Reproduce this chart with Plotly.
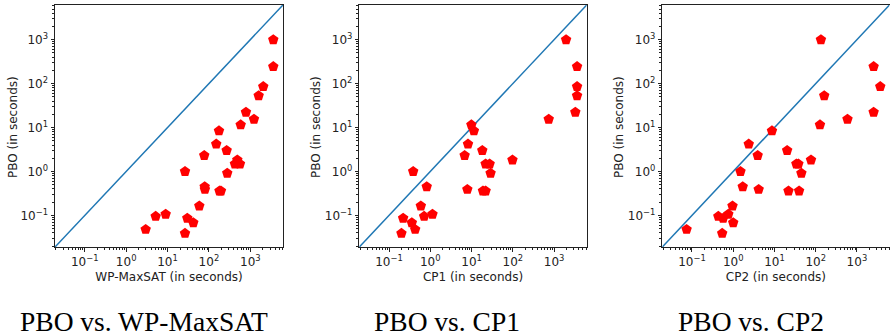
import plotly.graph_objects as go

# PBO runtime (seconds), one per instance
pbo = [1000, 244, 85.5, 53, 22.3, 15.4, 11.5, 8.4, 4.2, 3.0, 2.3, 1.83, 1.48, 1.48,
       1.0, 0.91, 0.45, 0.39, 0.36, 0.36, 0.164, 0.095, 0.106, 0.086, 0.068, 0.048, 0.039]
wp_maxsat = [3590, 3590, 2056, 1592, 785, 1225, 585, 175, 150, 268, 77, 485, 425, 562,
             26.4, 277, 79, 80, 180, 195, 58.5, 5.16, 9.0, 30, 41.9, 2.96, 26.4]
cp1 = [1950, 3600, 3600, 3600, 3270, 741, 9.9, 11.4, 8.2, 18.2, 6.8, 98, 21.9, 27.4,
       0.385, 28.9, 0.82, 7.9, 18.9, 21.9, 0.59, 0.71, 1.13, 0.22, 0.357, 0.43, 0.20]
cp2 = [134, 2540, 3680, 161, 2540, 590, 127, 8.7, 2.38, 20.3, 3.92, 77, 34, 38,
       1.5, 45, 1.7, 4.14, 21.9, 39.6, 0.96, 0.435, 0.76, 0.57, 1.0, 0.074, 0.54]

x_labels = ["WP-MaxSAT (in seconds)", "CP1 (in seconds)", "CP2 (in seconds)"]
titles = ["PBO vs. WP-MaxSAT", "PBO vs. CP1", "PBO vs. CP2"]
y_label = "PBO (in seconds)"
tick_vals = [0.1, 1, 10, 100, 1000]
tick_text = ["10<sup>\u22121</sup>", "10<sup>0</sup>", "10<sup>1</sup>", "10<sup>2</sup>", "10<sup>3</sup>"]
log_range = [-1.72, 3.79]
diag = [10 ** log_range[0], 10 ** log_range[1]]

series = [wp_maxsat, cp1, cp2]

W, H = 890, 336
x_domains = [(55, 283), (359.3, 586.7), (662.3, 889.5)]
title_centers = [144, 447.5, 751]
y_title_x = [13, 316, 619]
y_dom = [1 - 247 / H, 1 - 5 / H]

fig = go.Figure()
axis_common = dict(
    type="log", range=log_range, showgrid=False, zeroline=False,
    showline=True, linecolor="#222", linewidth=1, mirror=True,
    ticks="outside", ticklen=3.5, tickwidth=0.8, tickcolor="#222",
    tickvals=tick_vals, ticktext=tick_text,
    tickfont=dict(family="DejaVu Sans", size=12, color="#222"),
    minor=dict(ticks="outside", dtick="D1", ticklen=2, tickwidth=0.6,
               tickcolor="#222", showgrid=False),
)

for i, xs in enumerate(series):
    xa = "x" if i == 0 else f"x{i+1}"
    ya = "y" if i == 0 else f"y{i+1}"
    fig.add_trace(go.Scatter(x=diag, y=diag, mode="lines",
                             line=dict(color="#1f77b4", width=1.5),
                             xaxis=xa, yaxis=ya, showlegend=False, hoverinfo="skip"))
    fig.add_trace(go.Scatter(x=xs, y=pbo, mode="markers",
                             marker=dict(symbol="pentagon", size=11, color="red",
                                         line=dict(width=0)),
                             xaxis=xa, yaxis=ya, showlegend=False))
    d = x_domains[i]
    xk = "xaxis" if i == 0 else f"xaxis{i+1}"
    yk = "yaxis" if i == 0 else f"yaxis{i+1}"
    fig.layout[xk] = dict(axis_common, domain=[d[0] / W, d[1] / W], anchor=ya,
                          title=dict(text=x_labels[i], standoff=4,
                                     font=dict(family="DejaVu Sans", size=12, color="#222")))
    fig.layout[yk] = dict(axis_common, domain=y_dom, anchor=xa)
    fig.add_annotation(text=y_label, xref="paper", yref="paper",
                       x=y_title_x[i] / W, y=1 - 127 / H, textangle=-90,
                       xanchor="center", yanchor="middle", showarrow=False,
                       font=dict(family="DejaVu Sans", size=12, color="#222"))
    fig.add_annotation(text=titles[i], xref="paper", yref="paper",
                       x=title_centers[i] / W, y=1 - 321 / H,
                       xanchor="center", yanchor="middle", showarrow=False,
                       font=dict(family="Liberation Serif", size=27.5, color="black"))

fig.update_layout(width=W, height=H, margin=dict(l=0, r=0, t=0, b=0),
                  paper_bgcolor="white", plot_bgcolor="white")
fig.write_html("out.html")
